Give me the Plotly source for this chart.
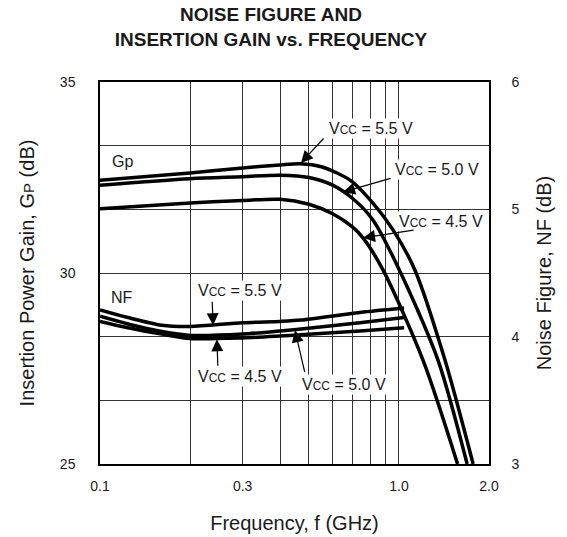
import math
import plotly.graph_objects as go

# --- data ---

# insertion power gain Gp (dB), left axis
gp_freq_55 = [0.1, 0.2, 0.3, 0.4, 0.467, 0.55, 0.686, 0.818, 0.955, 1.13, 1.425, 1.77]
gp_55 = [32.43, 32.62, 32.75, 32.83, 32.86, 32.78, 32.43, 31.83, 31.13, 30.08, 27.72, 25.0]

gp_freq_50 = [0.1, 0.2, 0.3, 0.4, 0.5, 0.6, 0.7, 0.818, 1.0, 1.35, 1.69]
gp_50 = [32.30, 32.47, 32.52, 32.56, 32.50, 32.30, 31.95, 31.39, 30.10, 27.72, 25.0]

gp_freq_45 = [0.1, 0.2, 0.3, 0.4, 0.5, 0.6, 0.7, 0.758, 0.884, 1.203, 1.57]
gp_45 = [31.68, 31.83, 31.90, 31.93, 31.80, 31.55, 31.20, 30.92, 30.08, 27.72, 25.0]

# noise figure NF (dB), right axis
nf_freq = [0.1, 0.124, 0.161, 0.2, 0.3, 0.4, 0.47, 0.74, 1.04]
nf_55 = [4.21, 4.15, 4.09, 4.08, 4.11, 4.12, 4.13, 4.19, 4.225]
nf_50 = [4.16, 4.10, 4.04, 4.01, 4.02, 4.045, 4.06, 4.11, 4.15]
nf_45 = [4.12, 4.07, 4.02, 3.985, 3.99, 4.005, 4.015, 4.045, 4.07]

x_tickvals = [0.1, 0.2, 0.3, 0.4, 0.5, 0.6, 0.7, 0.8, 0.9, 1.0, 2.0]
x_ticktext = ["0.1", "", "0.3", "", "", "", "", "", "", "1.0", "2.0"]
gp_tickvals = [25, 30, 35]
nf_tickvals = [3, 3.5, 4, 4.5, 5, 5.5, 6]
nf_ticktext = ["3", "", "4", "", "5", "", "6"]

FONT = "Liberation Sans, Arial, sans-serif"
INK = "#1a1a1a"
GRID = "#333333"


def vcc(v):
    return f"V<span style='font-size:12px'>CC</span> = {v} V"


fig = go.Figure()

line = dict(color="black", width=3.5, shape="spline", smoothing=0.8)
for f, g in [(gp_freq_55, gp_55), (gp_freq_50, gp_50), (gp_freq_45, gp_45)]:
    fig.add_trace(go.Scatter(x=f, y=g, mode="lines", line=line, yaxis="y"))
for n in [nf_55, nf_50, nf_45]:
    fig.add_trace(go.Scatter(x=nf_freq, y=n, mode="lines", line=line, yaxis="y2"))

# text labels (paper coords, centred)
labels = [
    ("Gp", 0.059, 0.793),
    ("NF", 0.057, 0.435),
    (vcc("5.5"), 0.697, 0.877),
    (vcc("5.0"), 0.866, 0.770),
    (vcc("4.5"), 0.877, 0.636),
    (vcc("5.5"), 0.360, 0.453),
    (vcc("4.5"), 0.360, 0.230),
    (vcc("5.0"), 0.627, 0.209),
]
annotations = [
    dict(text=t, x=x, y=y, xref="paper", yref="paper", showarrow=False,
         xanchor="center", yanchor="middle",
         font=dict(size=16, color=INK), bgcolor="white", borderpad=1)
    for t, x, y in labels
]

# arrows: tip (freq, value, axis) and tail offset in px
arrows = [
    (0.470, 32.88, "y", 24, -26),
    (0.650, 32.12, "y", 49, -14),
    (0.758, 30.92, "y", 52, -8),
    (0.239, 4.09, "y2", -1, -25),
    (0.246, 3.98, "y2", 1, 28),
    (0.449, 4.05, "y2", 10, 43),
]
for f, v, ax_name, dx, dy in arrows:
    annotations.append(dict(
        text="", x=math.log10(f), y=v, xref="x", yref=ax_name,
        showarrow=True, arrowhead=2, arrowsize=2, arrowwidth=1.2,
        arrowcolor="black", ax=dx, ay=dy, standoff=0,
    ))

fig.update_layout(
    width=567,
    height=537,
    margin=dict(l=100, r=78, t=82, b=73),
    paper_bgcolor="white",
    plot_bgcolor="white",
    showlegend=False,
    font=dict(family=FONT, color=INK, size=14),
    title=dict(
        text="<b>NOISE FIGURE AND<br>INSERTION GAIN vs. FREQUENCY</b>",
        x=0.478, xref="container", xanchor="center",
        y=0.96, yref="container", yanchor="top",
        font=dict(size=19, color=INK),
    ),
    xaxis=dict(
        type="log",
        range=[-1, math.log10(2.0)],
        tickvals=x_tickvals,
        ticktext=x_ticktext,
        ticks="",
        showgrid=True,
        gridcolor=GRID,
        gridwidth=1.3,
        showline=True,
        linecolor="black",
        linewidth=1.5,
        mirror=True,
        automargin=False,
        ticklabelstandoff=8,
        title=dict(text="Frequency, f (GHz)", font=dict(size=20), standoff=23),
        zeroline=False,
    ),
    yaxis=dict(
        range=[25, 35],
        tickvals=gp_tickvals,
        ticks="",
        showgrid=False,
        showline=True,
        linecolor="black",
        linewidth=1.5,
        zeroline=False,
        automargin=False,
        ticklabelstandoff=20,
        title=dict(
            text="Insertion Power Gain, G<span style='font-size:15px'>P</span> (dB)",
            font=dict(size=20), standoff=20,
        ),
    ),
    yaxis2=dict(
        range=[3, 6],
        overlaying="y",
        side="right",
        tickvals=nf_tickvals,
        ticktext=nf_ticktext,
        ticks="",
        showgrid=True,
        gridcolor=GRID,
        gridwidth=1.3,
        showline=True,
        linecolor="black",
        linewidth=1.5,
        zeroline=False,
        automargin=False,
        ticklabelstandoff=18,
        title=dict(text="Noise Figure, NF (dB)", font=dict(size=20), standoff=18),
    ),
    annotations=annotations,
)

# drop the browser's default body margin so the figure sits at the page origin
fig.write_html(
    "out.html",
    config={"displayModeBar": False},
    post_script="document.body.style.margin='0';",
)
